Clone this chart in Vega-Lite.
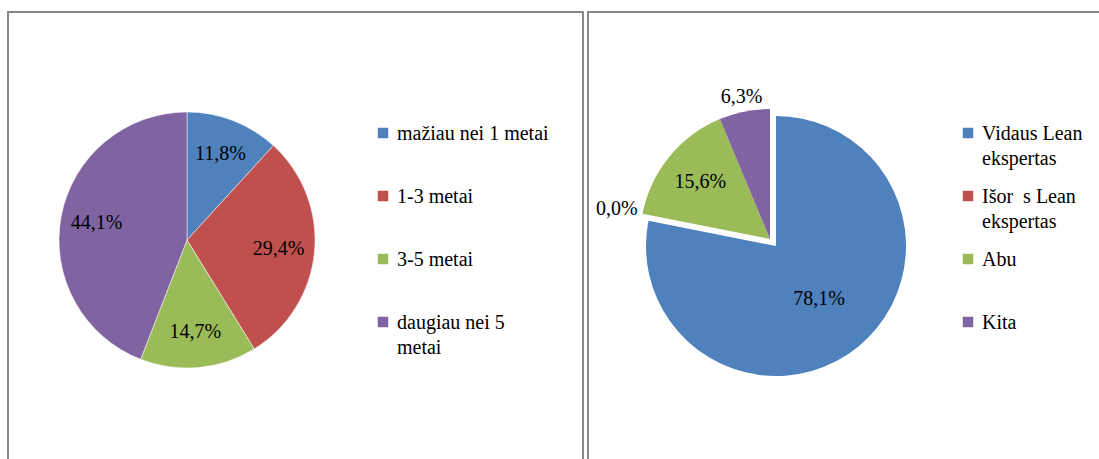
{
  "$schema": "https://vega.github.io/schema/vega-lite/v6.json",
  "padding": {"left": 7, "top": 11, "right": 0, "bottom": 0},
  "spacing": 3,
  "datasets": {
    "left": [
      {"cat": "mažiau nei 1 metai", "value": 11.8, "ord": 1, "label": "11,8%"},
      {"cat": "1-3 metai", "value": 29.4, "ord": 2, "label": "29,4%"},
      {"cat": "3-5 metai", "value": 14.7, "ord": 3, "label": "14,7%"},
      {"cat": "daugiau nei 5 metai", "value": 44.1, "ord": 4, "label": "44,1%"}
    ],
    "right": [
      {"cat": "Vidaus Lean ekspertas", "value": 78.1, "ord": 1, "label": "78,1%"},
      {"cat": "Išor\u00a0 s Lean ekspertas", "value": 0.0, "ord": 2, "label": "0,0%"},
      {"cat": "Abu", "value": 15.6, "ord": 3, "label": "15,6%"},
      {"cat": "Kita", "value": 6.3, "ord": 4, "label": "6,3%"}
    ]
  },
  "hconcat": [
    {
      "width": 575,
      "height": 450,
      "view": {"stroke": "#878787", "strokeWidth": 2},
      "data": {"name": "left"},
      "encoding": {
        "theta": {"field": "value", "type": "quantitative", "stack": true},
        "order": {"field": "ord", "type": "quantitative"}
      },
      "layer": [
        {
          "mark": {"type": "arc", "x": 179, "y": 228, "outerRadius": 128, "stroke": "white", "strokeWidth": 0.5},
          "encoding": {
            "color": {
              "field": "cat", "type": "nominal",
              "scale": {"domain": ["mažiau nei 1 metai", "1-3 metai", "3-5 metai", "daugiau nei 5 metai"], "range": ["#4F81BD", "#C0504D", "#9BBB59", "#8064A2"]},
              "legend": {
                "title": null, "orient": "none", "legendX": 365, "legendY": 111,
                "labelExpr": "datum.label == 'daugiau nei 5 metai' ? ['daugiau nei 5', 'metai'] : datum.label",
                "encode": {"labels": {"enter": {"dy": {"value": -9}, "lineHeight": {"value": 25}}}}
              }
            }
          }
        },
        {
          "mark": {"type": "text", "x": 179, "y": 228, "radius": 92, "font": "Liberation Serif", "fontSize": 20, "color": "black"},
          "encoding": {"text": {"field": "label"}}
        }
      ]
    },
    {
      "width": 520,
      "height": 450,
      "view": {"stroke": "#878787", "strokeWidth": 2},
      "data": {"name": "right"},
      "encoding": {
        "theta": {"field": "value", "type": "quantitative", "stack": true},
        "order": {"field": "ord", "type": "quantitative"}
      },
      "layer": [
        {
          "mark": {"type": "arc", "x": 188, "y": 234, "outerRadius": 130},
          "encoding": {
            "color": {
              "field": "cat", "type": "nominal",
              "scale": {"domain": ["Vidaus Lean ekspertas", "Išor\u00a0 s Lean ekspertas", "Abu", "Kita"], "range": ["#4F81BD", "#C0504D", "#9BBB59", "#8064A2"]},
              "legend": {
                "title": null, "orient": "none", "legendX": 370, "legendY": 111,
                "labelExpr": "datum.label == 'Vidaus Lean ekspertas' ? ['Vidaus Lean', 'ekspertas'] : datum.label == 'Išor\u00a0 s Lean ekspertas' ? ['Išor\u00a0 s Lean', 'ekspertas'] : datum.label",
                "encode": {"labels": {"enter": {"dy": {"value": -9}, "lineHeight": {"value": 25}}}}
              }
            },
            "opacity": {"condition": {"test": "datum.cat == 'Vidaus Lean ekspertas'", "value": 1}, "value": 0}
          }
        },
        {
          "mark": {"type": "arc", "x": 182, "y": 227, "outerRadius": 130},
          "encoding": {
            "color": {"field": "cat", "type": "nominal"},
            "opacity": {"condition": {"test": "datum.cat == 'Vidaus Lean ekspertas'", "value": 0}, "value": 1}
          }
        },
        {
          "mark": {"type": "text", "x": 188, "y": 234, "radius": 68, "font": "Liberation Serif", "fontSize": 20, "color": "black"},
          "encoding": {"text": {"field": "label"}, "opacity": {"condition": {"test": "datum.cat == 'Vidaus Lean ekspertas'", "value": 1}, "value": 0}}
        },
        {
          "mark": {"type": "text", "x": 182, "y": 227, "radius": 90, "font": "Liberation Serif", "fontSize": 20, "color": "black"},
          "encoding": {"text": {"field": "label"}, "opacity": {"condition": {"test": "datum.cat == 'Abu'", "value": 1}, "value": 0}}
        },
        {
          "mark": {"type": "text", "x": 182, "y": 227, "radius": 145, "font": "Liberation Serif", "fontSize": 20, "color": "black"},
          "encoding": {"text": {"field": "label"}, "opacity": {"condition": {"test": "datum.cat == 'Kita'", "value": 1}, "value": 0}}
        },
        {
          "mark": {"type": "text", "x": 182, "y": 227, "radius": 156, "font": "Liberation Serif", "fontSize": 20, "color": "black"},
          "encoding": {"text": {"field": "label"}, "opacity": {"condition": {"test": "datum.cat == 'Išor\u00a0 s Lean ekspertas'", "value": 1}, "value": 0}}
        }
      ]
    }
  ],
  "resolve": {"scale": {"color": "independent", "theta": "independent"}, "legend": {"color": "independent"}},
  "config": {
    "view": {"stroke": "#878787", "strokeWidth": 2},
    "style": {"guide-label": {"dy": -9, "lineHeight": 25}},
    "legend": {
      "padding": 0, "symbolType": "square", "symbolSize": 110, "symbolStrokeWidth": 0,
      "labelFont": "Liberation Serif", "labelFontSize": 20, "labelColor": "black", "labelOffset": 4,
      "rowPadding": 17, "labelLimit": 300, "gridAlign": "all", "labelBaseline": "top",
      "labelFontWeight": "normal"
    }
  }
}
